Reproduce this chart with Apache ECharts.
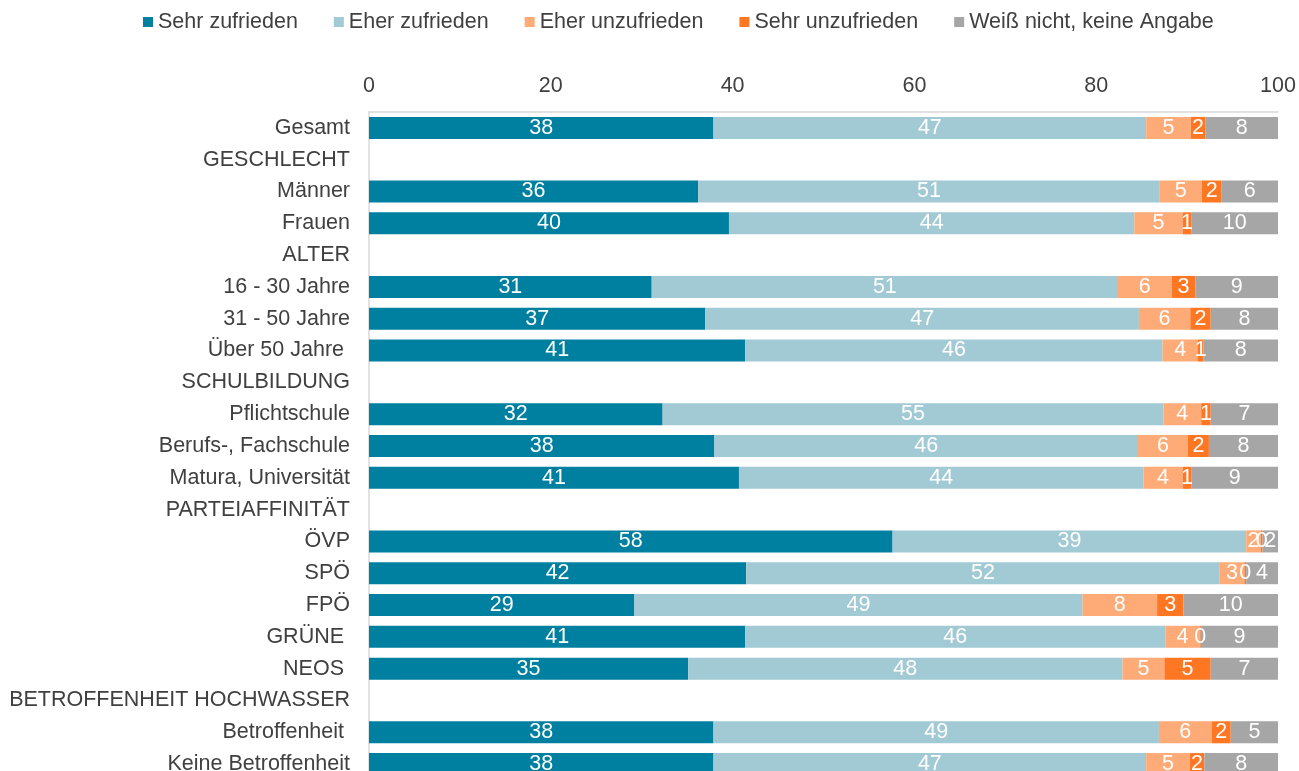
<!DOCTYPE html>
<html>
<head>
<meta charset="utf-8">
<script src="https://cdn.jsdelivr.net/npm/echarts@6/dist/echarts.min.js"></script>
<style>
  html, body { margin: 0; padding: 0; background: #fff; }
  #chart { width: 1299px; height: 771px; }
</style>
</head>
<body>
<div id="chart"></div>
<script>
var categories = ['Gesamt', 'GESCHLECHT', 'Männer', 'Frauen', 'ALTER', '16 - 30 Jahre', '31 - 50 Jahre', 'Über 50 Jahre ',
    'SCHULBILDUNG', 'Pflichtschule', 'Berufs-, Fachschule', 'Matura, Universität', 'PARTEIAFFINITÄT',
    'ÖVP', 'SPÖ', 'FPÖ', 'GRÜNE ', 'NEOS ', 'BETROFFENHEIT HOCHWASSER', 'Betroffenheit ', 'Keine Betroffenheit'];

var seriesNames = ['Sehr zufrieden', 'Eher zufrieden', 'Eher unzufrieden', 'Sehr unzufrieden', 'Weiß nicht, keine Angabe'];
var colors = ['#0080a0', '#a2cad4', '#ffab77', '#ff7722', '#a6a6a6'];

// bar lengths (percent)
var sehrZufrieden   = [37.9, null, 36.2, 39.6, null, 31.1, 37.0, 41.4, null, 32.3, 38.0, 40.7, null, 57.6, 41.5, 29.2, 41.4, 35.1, null, 37.9, 37.9];
var eherZufrieden   = [47.6, null, 50.8, 44.6, null, 51.3, 47.7, 45.9, null, 55.1, 46.6, 44.5, null, 38.9, 52.1, 49.3, 46.2, 47.8, null, 49.0, 47.6];
var eherUnzufrieden = [4.9, null, 4.6, 5.3, null, 5.9, 5.65, 3.9, null, 4.15, 5.5, 4.3, null, 1.6, 2.7, 8.2, 3.8, 4.6, null, 5.8, 4.8];
var sehrUnzufrieden = [1.6, null, 2.2, 1.0, null, 2.6, 2.25, 0.6, null, 1.05, 2.3, 1.0, null, 0.2, 0.2, 2.9, 0.1, 5.1, null, 2.1, 1.6];
var weissNicht      = [8.0, null, 6.2, 9.5, null, 9.1, 7.4, 8.2, null, 7.4, 7.6, 9.5, null, 1.7, 3.5, 10.4, 8.5, 7.4, null, 5.2, 8.1];

// printed labels (rounded)
var lblSehrZuf = [38, null, 36, 40, null, 31, 37, 41, null, 32, 38, 41, null, 58, 42, 29, 41, 35, null, 38, 38];
var lblEherZuf = [47, null, 51, 44, null, 51, 47, 46, null, 55, 46, 44, null, 39, 52, 49, 46, 48, null, 49, 47];
var lblEherUnz = [5, null, 5, 5, null, 6, 6, 4, null, 4, 6, 4, null, 2, 3, 8, 4, 5, null, 6, 5];
var lblSehrUnz = [2, null, 2, 1, null, 3, 2, 1, null, 1, 2, 1, null, 0, 0, 3, 0, 5, null, 2, 2];
var lblWeiss   = [8, null, 6, 10, null, 9, 8, 8, null, 7, 8, 9, null, 2, 4, 10, 9, 7, null, 5, 8];

var xTicks = [0, 20, 40, 60, 80, 100];

var values = [sehrZufrieden, eherZufrieden, eherUnzufrieden, sehrUnzufrieden, weissNicht];
var labels = [lblSehrZuf, lblEherZuf, lblEherUnz, lblSehrUnz, lblWeiss];

var font = "'Liberation Sans', Arial, sans-serif";
var fs = 21.5;

var myChart = echarts.init(document.getElementById('chart'));

var series = seriesNames.map(function (name, i) {
    return {
        name: name,
        type: 'bar',
        stack: 'total',
        barWidth: 22,
        itemStyle: { color: colors[i] },
        label: {
            show: true,
            position: 'inside',
            color: '#fff',
            fontSize: fs,
            fontFamily: font,
            formatter: function (p) {
                var v = labels[i][p.dataIndex];
                return v === null ? '' : String(v);
            }
        },
        data: values[i]
    };
});

var option = {
    animation: false,
    textStyle: { fontFamily: font },
    legend: {
        data: seriesNames,
        left: 138,
        top: 6,
        icon: 'rect',
        itemWidth: 10,
        itemHeight: 10,
        itemGap: 36,
        textStyle: { color: '#404040', fontSize: fs, fontFamily: font }
    },
    grid: {
        left: 369,
        right: 21,
        top: 112,
        height: 668,
        outerBoundsMode: 'none'
    },
    xAxis: {
        type: 'value',
        position: 'top',
        min: 0,
        max: 100,
        interval: 20,
        axisLine: { show: true, lineStyle: { color: '#d9d9d9', width: 1.5 } },
        axisTick: { show: false },
        splitLine: { show: false },
        axisLabel: {
            margin: 15,
            color: '#404040',
            fontSize: fs,
            fontFamily: font,
            formatter: function (v) { return xTicks.indexOf(v) >= 0 ? String(v) : ''; }
        }
    },
    yAxis: {
        type: 'category',
        inverse: true,
        data: categories,
        axisLine: { show: true, lineStyle: { color: '#d9d9d9', width: 1.5 } },
        axisTick: { show: false },
        axisLabel: {
            margin: 19,
            color: '#404040',
            fontSize: fs,
            fontFamily: font
        }
    },
    series: series
};

myChart.setOption(option);
</script>
</body>
</html>
